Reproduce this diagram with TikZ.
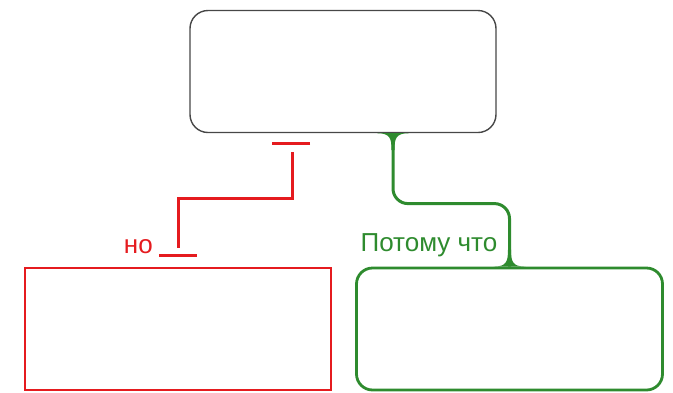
\documentclass[tikz,border=0pt]{standalone}
\usepackage{fontspec}
\setmainfont{Liberation Sans}
\usetikzlibrary{calc,positioning}
\definecolor{neutral}{HTML}{474747}
\definecolor{contra}{HTML}{E51B1F}
\definecolor{pro}{HTML}{2E8B2E}
\tikzset{
    argbox/.style={
        minimum width=306pt,
        minimum height=122pt,
        inner sep=0pt
    },
    claimbox/.style={
        argbox,
        draw=neutral,
        rounded corners=18pt,
        line width=1.4pt
    },
    objectionbox/.style={
        argbox,
        draw=contra,
        line width=2.8pt
    },
    reasonbox/.style={
        argbox,
        draw=pro,
        rounded corners=16pt,
        line width=2.8pt
    },
    link/.style={
        line width=3pt
    },
    linklabel/.style={
        font=\fontsize{26}{30}\selectfont,
        inner sep=0pt
    }
}

\begin{document}
\begin{tikzpicture}[x=1pt,y=-1pt]

    \useasboundingbox (0,0) rectangle (673,392);

    % Boxes
    \node[claimbox] (claim) at (343,71.5) {};
    \node[objectionbox] (objection) at (178,329) {};
    \node[reasonbox] (reason) at (509.5,329) {};

    % Objection link
    \coordinate (rstart) at ($(claim.south)+(-51,19)$);
    \coordinate (rend) at ($(objection.north)+(0,-19)$);

    \draw[link,contra]
        (rstart) |- ($(rend)+(0,-49)$)
        -- (rend);

    \draw[link,contra]
        ($(claim.south)+(-33,10)$) -- ($(claim.south)+(-71,10)$);

    \draw[link,contra]
        ($(objection.north)+(-19,-11)$) -- ($(objection.north)+(19,-11)$);

    \node[
        linklabel,
        contra,
        anchor=base east
    ]
        at ($(objection.north)+(-25,-13)$)
        {но};

    % Reason link
    \coordinate (gstart) at ($(claim.south)+(50,0)$);

    \draw[link,pro,rounded corners=15pt]
        (gstart) |- ($(reason.north)+(0,-63)$)
        -- (reason.north);

    \fill[pro]
        ($(gstart)+(-16,0)$)
        .. controls ($(gstart)+(-3,0)$) and ($(gstart)+(-1.5,5)$) .. ($(gstart)+(-1.5,17)$)
        -- ($(gstart)+(1.5,17)$)
        .. controls ($(gstart)+(1.5,5)$) and ($(gstart)+(3,0)$) .. ($(gstart)+(16,0)$)
        -- cycle;

    \fill[pro]
        ($(reason.north)+(-16,0)$)
        .. controls ($(reason.north)+(-3,0)$) and ($(reason.north)+(-1.5,-5)$) .. ($(reason.north)+(-1.5,-17)$)
        -- ($(reason.north)+(1.5,-17)$)
        .. controls ($(reason.north)+(1.5,-5)$) and ($(reason.north)+(3,0)$) .. ($(reason.north)+(16,0)$)
        -- cycle;

    \node[
        linklabel,
        pro,
        anchor=base east
    ]
        at ($(reason.north)+(-12,-15)$)
        {Потому что};

\end{tikzpicture}
\end{document}
